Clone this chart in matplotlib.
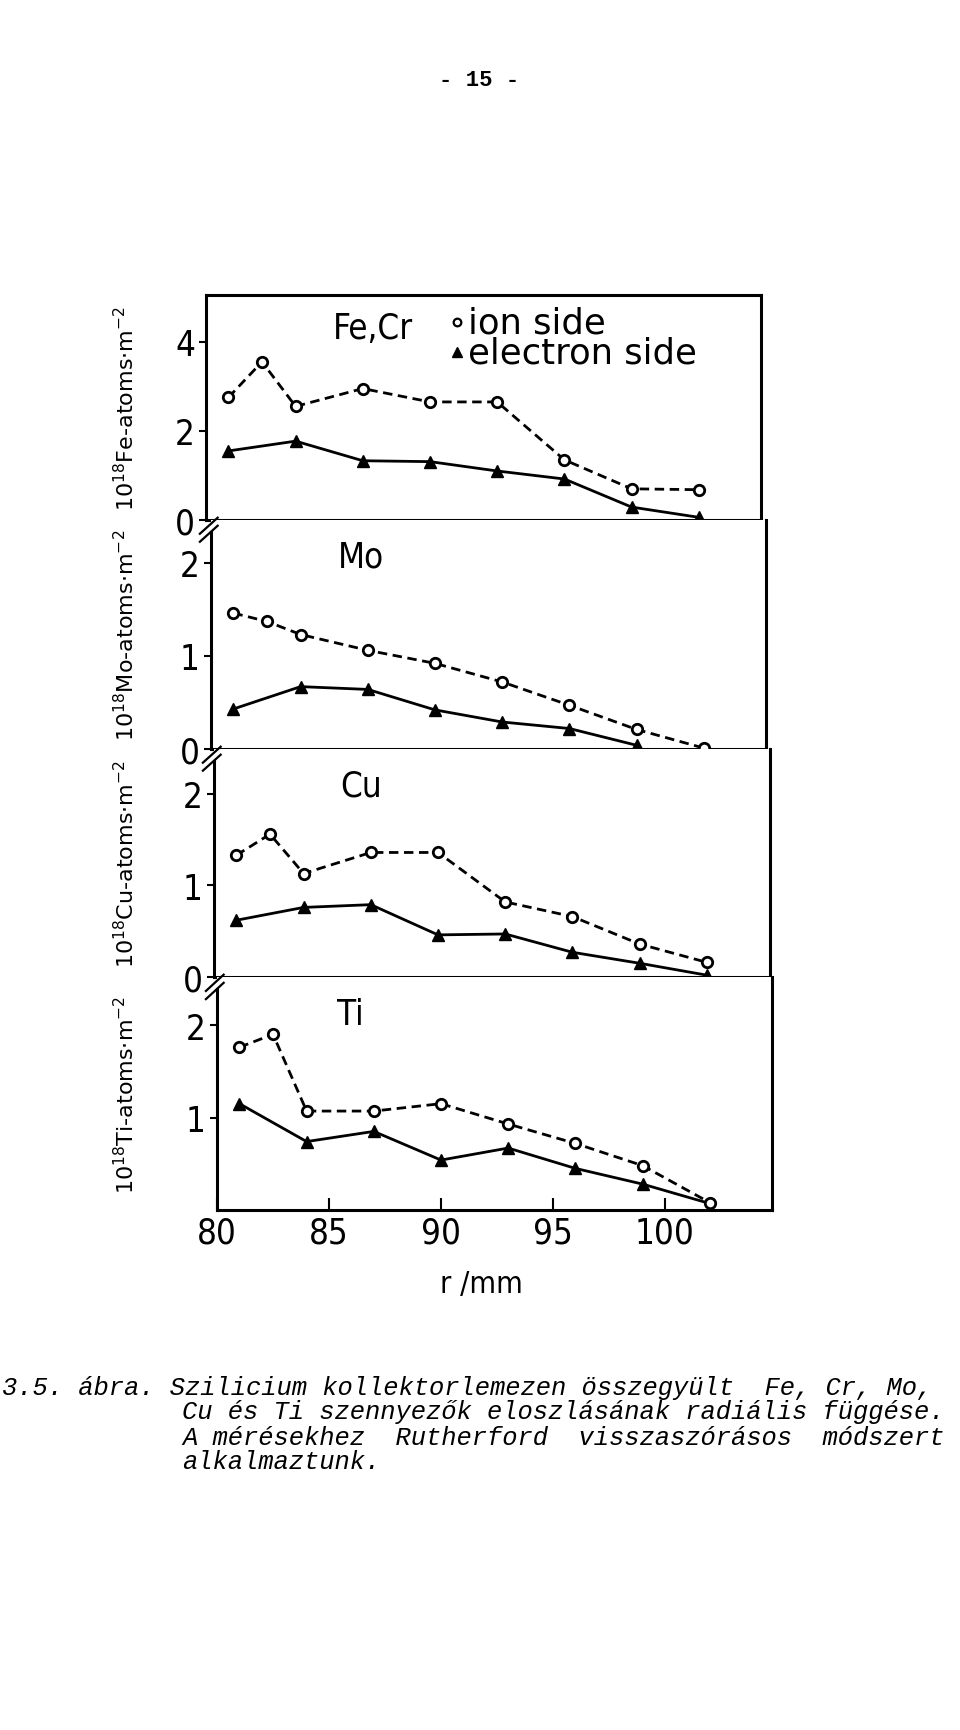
import matplotlib.pyplot as plt

# radial positions (mm)
r_ion = [81, 82.5, 84, 87, 90, 93, 96, 99, 102]
r_el = [81, 84, 87, 90, 93, 96, 99, 102]

# 10^18 atoms / m^2
fe_ion = [2.75, 3.55, 2.55, 2.95, 2.65, 2.65, 1.35, 0.70, 0.68]
fe_el = [1.55, 1.77, 1.33, 1.31, 1.10, 0.92, 0.29, 0.06]
mo_ion = [1.46, 1.37, 1.23, 1.06, 0.92, 0.72, 0.47, 0.21, 0.01]
mo_el = [0.43, 0.67, 0.64, 0.42, 0.29, 0.22, 0.04]
cu_ion = [1.33, 1.56, 1.13, 1.36, 1.36, 0.82, 0.66, 0.36, 0.16]
cu_el = [0.62, 0.76, 0.79, 0.46, 0.47, 0.27, 0.15, 0.02]
ti_ion = [1.76, 1.90, 1.07, 1.07, 1.15, 0.93, 0.72, 0.48, 0.08]
ti_el = [1.15, 0.74, 0.85, 0.54, 0.67, 0.45, 0.28, 0.07]

elements = ['Fe,Cr', 'Mo', 'Cu', 'Ti']
ylabels = ['Fe-atoms', 'Mo-atoms', 'Cu-atoms', 'Ti-atoms']
yticks = [[0, 2, 4], [0, 1, 2], [0, 1, 2], [1, 2]]
ytops = [5.05, 2.46, 2.49, 2.52]
legend_labels = ['ion side', 'electron side']

caption = [
    '3.5. ábra. Szilicium kollektorlemezen összegyült  Fe, Cr, Mo,',
    'Cu és Ti szennyezők eloszlásának radiális függése.',
    'A mérésekhez  Rutherford  visszaszórásos  módszert',
    'alkalmaztunk.',
]

W, H = 960, 1731
narrow = dict(family=['Liberation Sans Narrow', 'DejaVu Sans'],
              stretch='condensed')
plt.rcParams['font.family'] = ['DejaVu Sans']

fig = plt.figure(figsize=(W / 100, H / 100), dpi=100)

# panel boxes in pixels: left, right, top, bottom (hand pasted, slightly shifted)
boxes = [(206, 761, 296, 521), (211, 766, 521, 750),
         (214, 770, 750, 978), (217, 772, 978, 1211)]
px_per_mm = 22.4
label_pos = [(0.30, 0.853), (0.27, 0.84), (0.265, 0.84), (0.24, 0.84)]

ion_data = [fe_ion, mo_ion, cu_ion, ti_ion]
el_data = [fe_el, mo_el, cu_el, ti_el]

for i, (l, r, t, b) in enumerate(boxes):
    ax = fig.add_axes([l / W, 1 - b / H, (r - l) / W, (b - t) / H])
    ax.set_xlim(80, 80 + (r - l) / px_per_mm)
    ax.set_ylim(0, ytops[i])

    ax.plot(r_ion, ion_data[i], ls=(0, (3.4, 2.0)), color='black', lw=2.0,
            marker='o', ms=7.5, mfc='white', mew=2.0, zorder=3)
    n_el = len(el_data[i])
    mark = list(range(n_el - 1)) if i == 3 else None
    ax.plot(r_el[:n_el], el_data[i], '-', color='black', lw=2.0,
            marker='^', ms=8.5, markevery=mark, zorder=2)

    for s in ax.spines.values():
        s.set_linewidth(2.2)
    if i > 0:
        ax.spines['top'].set_visible(False)
        ax.spines['left'].set_bounds(0, ytops[i] - 0.13)
        # break marks at top of left spine
        for dy in (0.0, 0.035):
            ax.plot([-0.02, 0.012], [0.905 + dy, 0.975 + dy],
                    transform=ax.transAxes, color='black', lw=1.6,
                    clip_on=False)

    ax.set_yticks(yticks[i])
    ax.set_yticklabels([str(v) for v in yticks[i]], fontsize=25, **narrow)
    ax.tick_params(axis='y', direction='out', length=5, width=1.5, pad=3)

    if i == 3:
        ax.set_xticks([80, 85, 90, 95, 100])
        ax.set_xticklabels(['80', '85', '90', '95', '100'], fontsize=25,
                           **narrow)
        ax.tick_params(axis='x', direction='in', length=9, width=1.5, pad=4)
    else:
        ax.set_xticks([])

    ax.text(label_pos[i][0], label_pos[i][1], elements[i],
            transform=ax.transAxes, fontsize=25, ha='center', va='center',
            **narrow)

    ylab = r'$10^{18}$' + ylabels[i] + r'$\cdot$m$^{-2}$'
    fig.text(126 / W, 1 - (t + b) / 2 / H, ylab, rotation=90, fontsize=16,
             ha='center', va='center')

    if i == 0:
        # hand-lettered key: markers plus one two-line text block
        ax.plot([0.452], [0.880], 'o', ms=5.5, mfc='white', mec='black',
                mew=1.6, transform=ax.transAxes, clip_on=False)
        ax.plot([0.452], [0.745], '^', ms=7.5, color='black',
                transform=ax.transAxes, clip_on=False)
        ax.text(0.472, 0.810, '\n'.join(legend_labels), transform=ax.transAxes,
                fontsize=25.5, ha='left', va='center', linespacing=0.86)

fig.text(481 / W, 1 - 1293 / H, 'r /mm', fontsize=22, ha='center',
         va='baseline', **narrow)

fig.text(479 / W, 1 - 80 / H, '- 15 -', family='Liberation Mono',
         weight='bold', fontsize=16, ha='center', va='center')

cap_y = [1388, 1412, 1438, 1462]
for k, line in enumerate(caption):
    x0 = 2 if k == 0 else 182
    fig.text(x0 / W, 1 - cap_y[k] / H, line, family='Liberation Mono',
             style='italic', fontsize=18.4, ha='left', va='center')

fig.savefig('out.png', dpi=100, facecolor='white')
